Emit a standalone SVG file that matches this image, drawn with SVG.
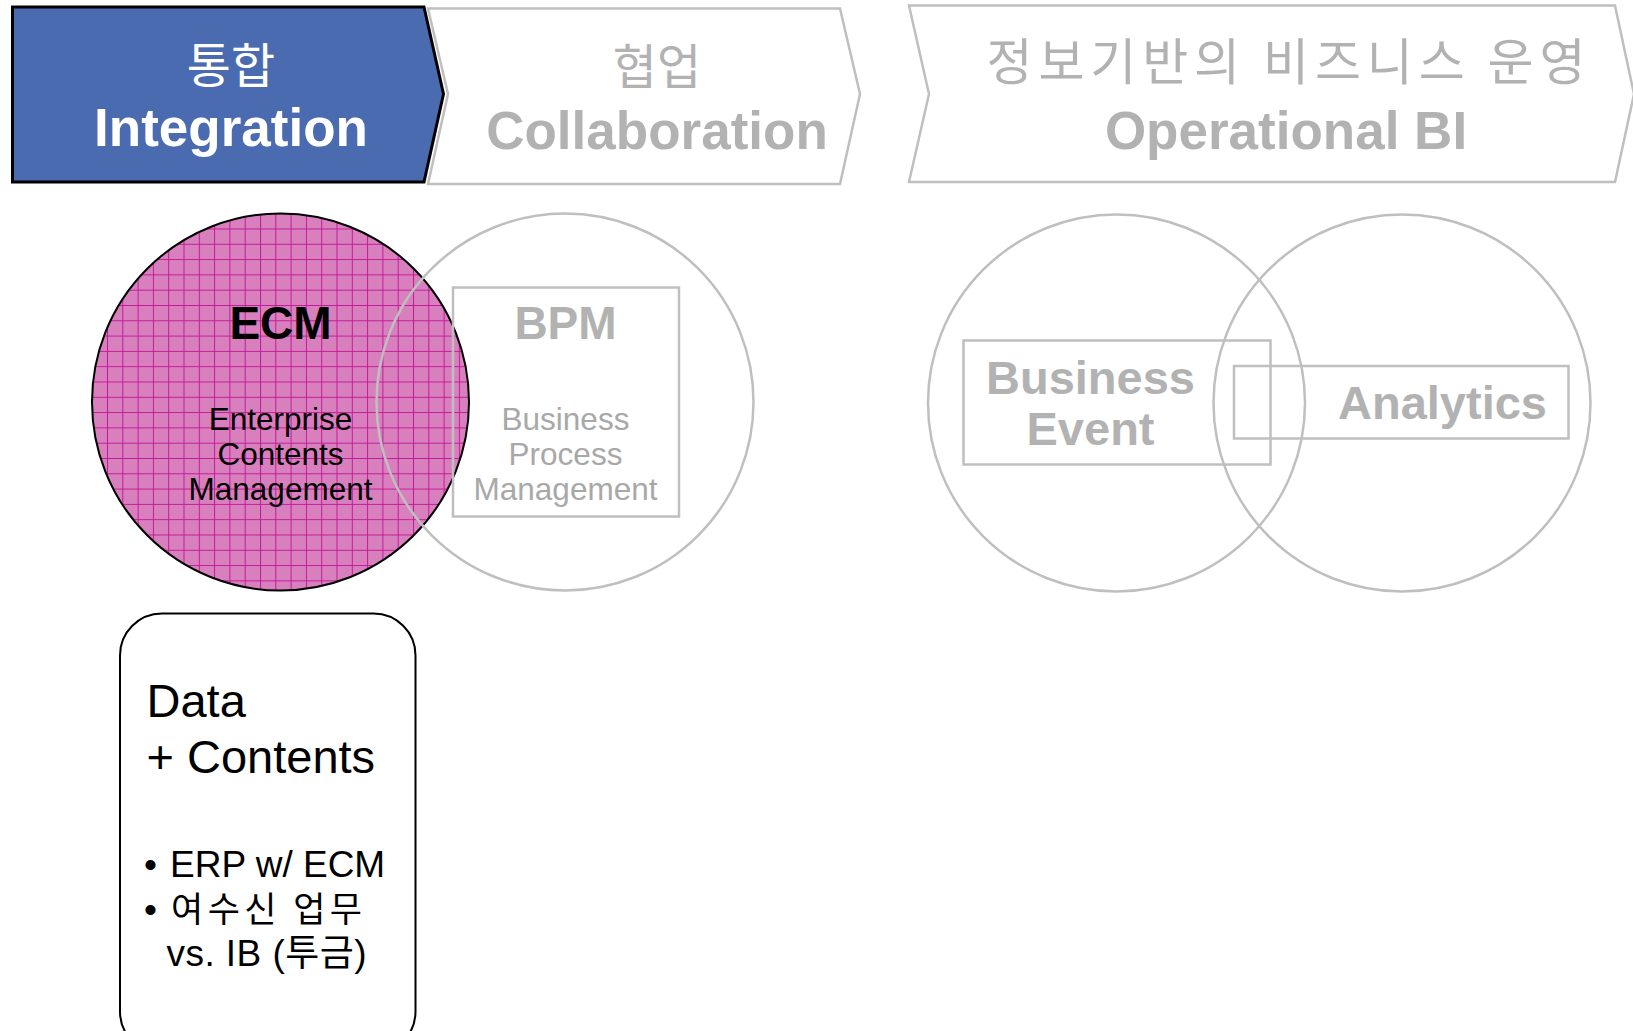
<svg xmlns="http://www.w3.org/2000/svg" width="1633" height="1031" viewBox="0 0 1633 1031">
<style>
.lat{font-family:"Liberation Sans",Arial,sans-serif}
.kr{font-family:"Noto Sans CJK KR","Liberation Sans",sans-serif}
.mix{font-family:"Liberation Sans","Noto Sans CJK KR",sans-serif}
.gs{fill:none;stroke:#bfbfbf;stroke-width:2.5}
.gt{fill:#b2b2b2}
.gl{fill:#a8a8a8}
</style>
<defs>
<pattern id="grid" patternUnits="userSpaceOnUse" width="15.3" height="15.3" x="107" y="305">
<rect width="15.3" height="15.3" fill="#d880bd"/>
<path d="M0,0.5H15.3M0.5,0V15.3" stroke="#c4199a" stroke-width="1" fill="none"/>
</pattern>
</defs>
<rect width="1633" height="1031" fill="#ffffff"/>

<g id="chevron-integration">
<path d="M12.5,7 L424,7 L443.5,94 L424,182 L12.5,182 Z" fill="#4b6bb0" stroke="#000" stroke-width="3"/>
<text class="kr" x="231" y="83" font-size="48" fill="#ffffff" text-anchor="middle">통합</text>
<text class="lat" x="231" y="146" font-size="53" font-weight="bold" fill="#ffffff" text-anchor="middle">Integration</text>
</g>

<g id="chevron-collaboration">
<path d="M428,8.5 L840,8.5 L860,94 L840,184 L428,184 L448,94 Z" class="gs" stroke-width="3"/>
<text class="kr gt" x="657" y="84" font-size="48" text-anchor="middle">협업</text>
<text class="lat gt" x="657" y="149" font-size="53" font-weight="bold" text-anchor="middle">Collaboration</text>
</g>

<g id="chevron-operational-bi">
<path d="M909,5.5 L1615,5.5 L1634,94 L1615,182 L909,182 L929,94 Z" class="gs" stroke-width="3"/>
<text class="kr gt" x="1286" y="80" font-size="50" text-anchor="middle" textLength="599" lengthAdjust="spacing">정보기반의 비즈니스 운영</text>
<text class="lat gt" x="1286" y="149" font-size="53" font-weight="bold" text-anchor="middle">Operational BI</text>
</g>

<g id="ecm">
<circle cx="280.5" cy="402" r="188.5" fill="url(#grid)" stroke="#000" stroke-width="2"/>
<text class="lat" x="280.5" y="339" font-size="46" font-weight="bold" fill="#000" text-anchor="middle">ECM</text>
<text class="lat" x="280.5" y="430" font-size="31.5" fill="#000" text-anchor="middle">Enterprise</text>
<text class="lat" x="280.5" y="465" font-size="31.5" fill="#000" text-anchor="middle">Contents</text>
<text class="lat" x="280.5" y="500" font-size="31.5" fill="#000" text-anchor="middle">Management</text>
</g>

<g id="bpm">
<circle cx="565" cy="402" r="188.5" class="gs" stroke-width="2"/>
<rect x="453" y="287.5" width="226" height="229" class="gs"/>
<text class="lat gt" x="565.5" y="339" font-size="46" font-weight="bold" text-anchor="middle">BPM</text>
<text class="lat gl" x="565.5" y="430" font-size="31.5" text-anchor="middle">Business</text>
<text class="lat gl" x="565.5" y="465" font-size="31.5" text-anchor="middle">Process</text>
<text class="lat gl" x="565.5" y="500" font-size="31.5" text-anchor="middle">Management</text>
</g>

<g id="business-event">
<circle cx="1116.5" cy="403" r="188.5" class="gs" stroke-width="2"/>
<rect x="963.5" y="340.5" width="307" height="124" class="gs"/>
<text class="lat gt" x="1090.5" y="394" font-size="47" font-weight="bold" text-anchor="middle">Business</text>
<text class="lat gt" x="1090.5" y="445" font-size="47" font-weight="bold" text-anchor="middle">Event</text>
</g>

<g id="analytics">
<circle cx="1402" cy="403" r="188.5" class="gs" stroke-width="2"/>
<rect x="1234" y="366" width="334.5" height="72.5" class="gs"/>
<text class="lat gt" x="1442.5" y="419" font-size="47" font-weight="bold" text-anchor="middle">Analytics</text>
</g>

<g id="data-contents">
<rect x="120" y="613.5" width="295.5" height="440" rx="42" ry="42" fill="#fff" stroke="#000" stroke-width="2"/>
<text class="lat" x="146.5" y="717" font-size="47" fill="#000">Data</text>
<text class="lat" x="146.5" y="773" font-size="47" fill="#000">+ Contents</text>
<text class="lat" x="144" y="877" font-size="37" fill="#000">•</text>
<text class="lat" x="170" y="877" font-size="37" fill="#000">ERP w/ ECM</text>
<text class="lat" x="144" y="922" font-size="37" fill="#000">•</text>
<text class="kr" x="171" y="922" font-size="35" fill="#000" textLength="191" lengthAdjust="spacing">여수신 업무</text>
<text class="mix" x="166.5" y="966" font-size="37" fill="#000" textLength="200" lengthAdjust="spacing">vs. IB (투금)</text>
</g>

<g id="connectors"></g>
</svg>
